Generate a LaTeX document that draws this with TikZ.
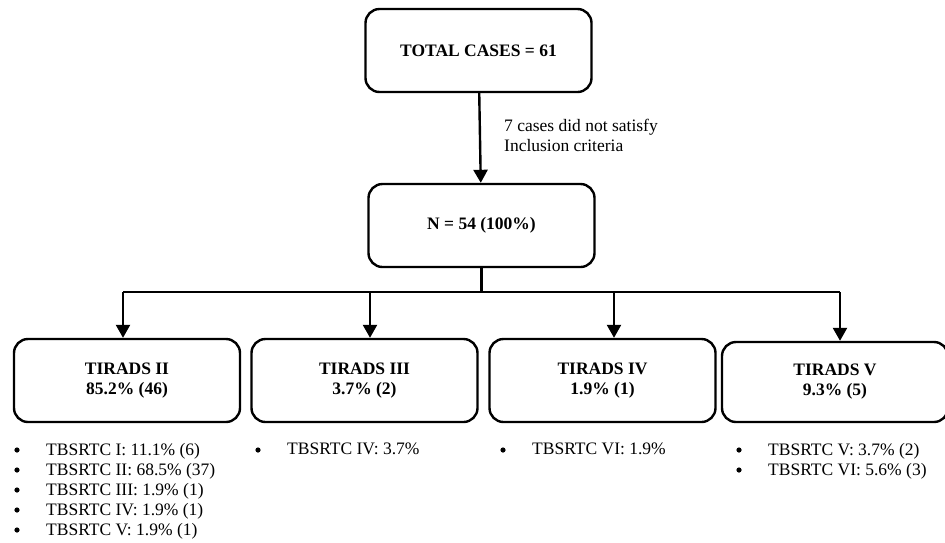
\documentclass[tikz,border=0pt]{standalone}
\usepackage{fontspec}
\setmainfont{Liberation Serif}
\usepackage{tikz}
\usetikzlibrary{arrows.meta,positioning,calc}

\tikzset{
  flowbox/.style={draw, line width=2.4pt, rounded corners=14pt, align=center,
    minimum width=226pt, minimum height=83pt, inner sep=0pt, font=\bfseries},
  flowarrow/.style={line width=2.4pt, -{Triangle[length=13pt,width=14pt]}},
  flowline/.style={line width=2.4pt},
  bulletlist/.style={anchor=north west, align=left, inner sep=0pt}
}

\begin{document}
\begin{tikzpicture}[x=1pt,y=-1pt]
    \fontsize{17.5}{20}\selectfont
    \useasboundingbox (0,0) rectangle (945,542);

    % top of the chart
    \node [flowbox] (total) at (478.5,50.5) {TOTAL CASES = 61};
    \node [flowbox] (nall) at (481.5,225.5) {N = 54 (100\%)};
    \node [anchor=west, align=left, inner sep=0pt] (excl) at (504,135)
        {7 cases did not satisfy\\Inclusion criteria};

    % TIRADS groups
    \node [flowbox] (t2) at (127,380.5) {TIRADS II\\85.2\% (46)};
    \node [flowbox] (t3) at (364.5,380.5) {TIRADS III\\3.7\% (2)};
    \node [flowbox] (t4) at (602.5,380.5) {TIRADS IV\\1.9\% (1)};
    \node [flowbox, minimum height=80pt] (t5) at (835,382) {TIRADS V\\9.3\% (5)};

    \coordinate (bar) at (481.5,292);
    \coordinate (b2) at (123,292);
    \coordinate (b3) at (370,292);
    \coordinate (b4) at (614,292);
    \coordinate (b5) at (840,292);

    \draw [flowarrow] (total) -- (nall);
    \draw [flowline] (nall) -- (bar);
    \draw [flowline] (b2) -- (b5);
    \draw [flowarrow] (b2) -- (b2 |- t2.north);
    \draw [flowarrow] (b3) -- (b3 |- t3.north);
    \draw [flowarrow] (b4) -- (b4 |- t4.north);
    \draw [flowarrow] (b5) -- (b5 |- t5.north);

    % TBSRTC lists
    \node [bulletlist] (l2) at (46,443) {TBSRTC I: 11.1\% (6)\\
        TBSRTC II: 68.5\% (37)\\
        TBSRTC III: 1.9\% (1)\\
        TBSRTC IV: 1.9\% (1)\\
        TBSRTC V: 1.9\% (1)};
    \node [bulletlist] (l3) at (287,443) {TBSRTC IV: 3.7\%};
    \node [bulletlist] (l4) at (532,443) {TBSRTC VI: 1.9\%};
    \node [bulletlist] (l5) at (768,443) {TBSRTC V: 3.7\% (2)\\
        TBSRTC VI: 5.6\% (3)};

    \foreach \yb in {450,470,490,510,530}
        \fill (17,\yb) circle (2.6pt);
    \fill (258,450) circle (2.6pt);
    \fill (503,450) circle (2.6pt);
    \fill (739,450) circle (2.6pt);
    \fill (739,470) circle (2.6pt);
\end{tikzpicture}
\end{document}
